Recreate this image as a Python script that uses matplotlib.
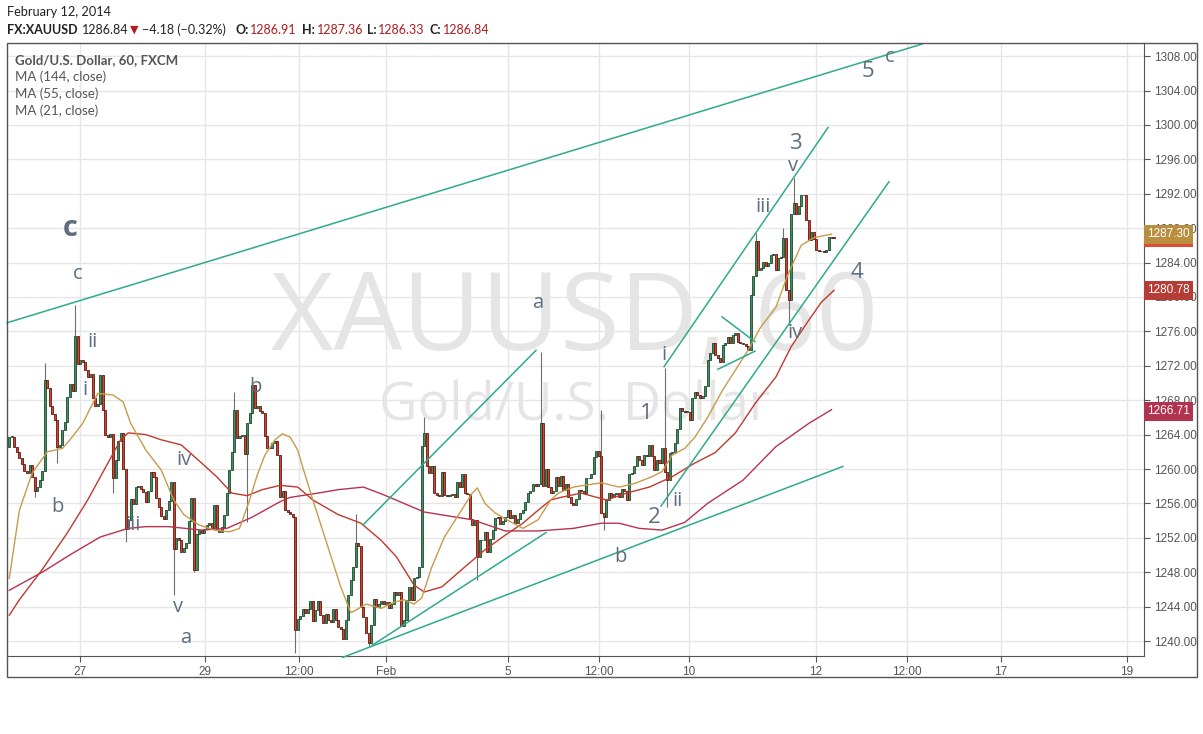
import numpy as np
import matplotlib
import matplotlib.pyplot as plt
from matplotlib.patches import Rectangle
matplotlib.use('Agg')

# hourly closes XAUUSD (oldest first)
closes = [
    1263.7, 1263.7, 1262.6, 1262.0, 1261.3, 1260.6, 1259.8, 1259.5, 1260.5, 1259.1,
    1257.5, 1257.9, 1258.7, 1259.8, 1270.4, 1269.4, 1267.3, 1266.4, 1265.7, 1262.6,
    1262.8, 1264.5, 1265.5, 1268.4, 1269.9, 1269.1, 1275.5, 1272.2, 1272.7, 1272.4,
    1271.5, 1270.7, 1271.1, 1268.3, 1267.3, 1267.6, 1270.9, 1266.9, 1263.9, 1263.7,
    1264.1, 1258.9, 1261.0, 1263.2, 1264.2, 1260.0, 1253.0, 1254.1, 1256.5,
    1255.9, 1257.9, 1258.0, 1257.7, 1257.3, 1256.2, 1257.4, 1259.7, 1259.1, 1256.6,
    1255.6, 1254.5, 1254.2, 1255.2, 1256.3, 1258.5, 1250.7, 1252.0, 1251.8, 1250.4,
    1250.8, 1251.4, 1254.0, 1256.6, 1248.3, 1252.4, 1252.9, 1252.6, 1253.0, 1253.5,
    1253.7, 1253.1, 1255.8, 1252.9, 1252.7, 1253.2, 1254.6, 1257.2, 1259.9, 1262.0,
    1266.9, 1263.6, 1263.8, 1263.9, 1261.7, 1265.4, 1266.5, 1269.8, 1267.1, 1267.3,
    1266.7, 1266.5, 1263.8, 1262.5, 1262.4, 1263.0,
    1263.3, 1261.6, 1256.8, 1257.4, 1255.2, 1255.0, 1254.8, 1254.4, 1241.3, 1242.6,
    1242.9, 1243.7, 1243.3, 1243.7, 1244.6, 1242.3, 1243.6, 1244.6, 1243.0, 1242.1,
    1243.1, 1242.4, 1242.2, 1243.7, 1242.4, 1241.6, 1241.4, 1240.2, 1242.4, 1245.3,
    1247.1, 1248.6, 1251.4, 1251.0, 1244.0, 1242.8, 1240.9, 1239.8, 1241.9, 1244.9,
    1244.0, 1244.3, 1244.6, 1244.3, 1244.5, 1243.8, 1244.3, 1245.7, 1245.4, 1245.7,
    1241.7, 1242.4, 1244.8, 1246.3,
    1244.8, 1247.3, 1247.4, 1248.6, 1262.7, 1264.2, 1260.3, 1259.5, 1260.3, 1257.2,
    1257.0, 1256.9, 1259.6, 1257.0, 1256.9, 1257.0, 1257.1, 1256.8, 1258.5, 1257.9,
    1259.4, 1257.2, 1257.1, 1254.2, 1253.5, 1254.1, 1249.8, 1251.7, 1251.8, 1252.7,
    1250.4, 1251.9, 1252.9, 1254.3, 1254.4, 1253.6, 1254.0, 1254.4, 1255.2, 1254.3,
    1254.7, 1253.7, 1254.2, 1254.9, 1255.2, 1256.2, 1257.2, 1257.4, 1258.3, 1258.0,
    1258.3, 1265.3, 1258.0, 1260.0, 1257.9,
    1257.2, 1257.4, 1259.1, 1258.0, 1259.2, 1257.6, 1258.2, 1256.8, 1256.1, 1255.8,
    1256.5, 1257.6, 1257.4, 1257.2, 1258.9, 1259.0, 1259.4, 1261.4, 1262.1, 1261.5,
    1254.9, 1254.4, 1256.4, 1257.2, 1256.8, 1257.1, 1257.2, 1256.8, 1257.7, 1257.5,
    1256.4, 1259.4, 1259.5, 1260.3, 1261.5, 1261.1, 1260.5, 1261.6, 1261.5, 1262.8,
    1261.5, 1259.9, 1261.0, 1260.7, 1262.4, 1259.7, 1258.7, 1261.9, 1262.0, 1263.0,
    1264.6, 1267.1, 1266.7, 1266.6,
    1266.6, 1265.7, 1268.2, 1269.0, 1268.6, 1268.2, 1268.5, 1269.6, 1272.7, 1273.5,
    1274.6, 1273.3, 1272.9, 1272.4, 1274.4, 1274.6, 1275.4, 1274.7, 1275.6, 1275.8,
    1274.8, 1274.7, 1274.5, 1274.3, 1273.8, 1280.2, 1282.4, 1286.5, 1283.1, 1283.4,
    1284.1, 1283.6, 1283.9, 1284.9, 1285.0, 1283.1, 1284.5, 1284.7, 1286.9, 1280.8,
    1279.7, 1289.7, 1290.9, 1289.7, 1290.6, 1291.9, 1291.8, 1288.9, 1286.6, 1287.6,
    1286.8, 1285.5, 1285.4, 1285.3, 1285.2, 1285.5, 1287.0, 1286.9, 1286.84,
]
first_open = 1262.6

# visible long wicks (bar index -> price)
wick_highs = {14: 1272.3, 26: 1279.1, 89: 1269.0, 137: 1254.8, 164: 1266.1, 210: 1273.6,
              234: 1266.9, 259: 1271.7, 295: 1287.4, 306: 1288.0, 310: 1293.8}
wick_lows = {10: 1256.8, 19: 1260.7, 41: 1257.2, 46: 1251.5, 65: 1245.3, 73: 1248.0,
             94: 1253.8, 113: 1238.6, 142: 1239.3, 185: 1247.1, 235: 1252.9, 260: 1255.6,
             308: 1276.8}

# moving averages (bar index, price)
ma144_x = [0, 13, 25, 36, 47, 54, 63, 76, 86, 96, 107, 111, 122, 130, 140, 148, 160, 164, 183,
           196, 209, 223, 234, 241, 249, 258, 267, 276, 290, 303, 316, 325]
ma144_y = [1245.9, 1248.0, 1250.2, 1252.1, 1253.1, 1253.3, 1253.3, 1252.9, 1253.1, 1254.4,
           1256.2, 1256.7, 1257.2, 1257.6, 1257.9, 1257.0, 1255.5, 1255.0, 1254.1, 1252.8,
           1252.8, 1253.1, 1253.7, 1253.7, 1253.1, 1252.9, 1253.8, 1256.0, 1258.7, 1262.6,
           1265.3, 1266.9]
ma55_x = [0, 4, 13, 23, 31, 39, 44, 47, 54, 60, 68, 76, 82, 88, 94, 100, 107, 114, 120, 130,
          139, 147, 153, 160, 164, 171, 180, 188, 195, 203, 209, 214, 218, 226, 236, 244, 253,
          262, 271, 279, 287, 295, 303, 309, 316, 321, 326]
ma55_y = [1243.0, 1244.8, 1248.3, 1252.6, 1256.4, 1260.7, 1263.4, 1264.2, 1264.0, 1263.4,
          1262.8, 1260.7, 1259.1, 1257.2, 1256.9, 1257.6, 1258.1, 1257.9, 1256.4, 1254.7,
          1253.7, 1251.7, 1249.8, 1246.5, 1245.7, 1246.3, 1248.6, 1250.6, 1252.1, 1253.7,
          1255.2, 1256.4, 1256.7, 1257.2, 1256.4, 1257.2, 1257.9, 1259.1, 1260.7, 1261.9,
          1264.2, 1267.7, 1270.7, 1274.2, 1277.3, 1279.4, 1280.78]
ma21_x = [0, 4, 9, 15, 21, 24, 29, 35, 41, 45, 48, 54, 60, 65, 69, 75, 81, 87, 91, 95, 98, 101,
          105, 108, 111, 114, 116, 120, 126, 131, 135, 137, 141, 147, 152, 156, 160, 163, 167,
          172, 177, 183, 185, 188, 192, 196, 203, 209, 214, 217, 223, 234, 241, 247, 254, 258,
          262, 267, 271, 276, 282, 287, 292, 297, 303, 308, 313, 318, 325]
ma21_y = [1247.3, 1255.2, 1259.5, 1262.0, 1262.4, 1263.4, 1265.3, 1268.8, 1268.6, 1267.8,
          1265.3, 1262.2, 1259.9, 1256.4, 1254.7, 1253.5, 1252.9, 1252.7, 1253.1, 1256.4,
          1259.3, 1261.6, 1263.4, 1264.1, 1263.7, 1262.2, 1260.2, 1256.4, 1250.9, 1246.3,
          1243.3, 1243.6, 1244.3, 1243.8, 1244.5, 1244.8, 1244.3, 1245.0, 1248.6, 1252.1,
          1254.4, 1257.2, 1257.8, 1256.0, 1254.9, 1254.2, 1253.1, 1254.1, 1256.4, 1257.2,
          1257.9, 1258.4, 1257.9, 1258.3, 1259.1, 1259.7, 1261.6, 1262.4, 1263.7, 1266.0,
          1269.2, 1271.5, 1273.8, 1276.5, 1278.8, 1282.8, 1286.0, 1286.9, 1287.3]

# trend lines drawn on the chart: (x0, y0, x1, y1) in bar index / price
trend_lines = [
    (-0.9, 1277.0, 360.7, 1309.4),
    (131.8, 1238.1, 329.5, 1260.3),
    (139.8, 1253.5, 208.2, 1273.8),
    (143.4, 1239.5, 212.1, 1252.6),
    (258.8, 1271.9, 323.6, 1299.7),
    (257.6, 1255.7, 347.7, 1293.4),
    (281.7, 1277.7, 294.7, 1274.8),
    (280.1, 1271.6, 294.7, 1273.7),
]

# Elliott wave labels: text, bar, price, size, bold
wave_labels = [
    ('c', 24, 1288.0, 21, True), ('c', 27.2, 1282.7, 14.5, False), ('ii', 32.7, 1274.8, 14.5, False),
    ('i', 30, 1269.2, 14.5, False), ('b', 18.9, 1255.6, 14.5, False), ('iii', 48.9, 1253.5, 14.5, False),
    ('iv', 69, 1261.0, 14.5, False), ('v', 66.7, 1244.0, 14.5, False), ('a', 69.8, 1240.3, 14.5, False),
    ('b', 97.1, 1269.5, 14.5, False), ('a', 208.9, 1279.3, 14.5, False), ('b', 241.4, 1249.8, 14.5, False),
    ('1', 251.7, 1266.4, 16, False), ('2', 254.8, 1254.4, 16, False), ('i', 258.8, 1273.3, 14.5, False),
    ('ii', 264.3, 1256.3, 14.5, False), ('iii', 297.9, 1290.5, 14.5, False), ('3', 310.6, 1297.9, 16, False),
    ('v', 309.8, 1295.2, 14.5, False), ('iv', 310.6, 1275.8, 14.5, False), ('4', 335.1, 1282.8, 16, False),
    ('5', 339.4, 1306.2, 16, False), ('c', 348.1, 1307.9, 14.5, False),
]

xtick_pos = [27.9, 77.3, 114.5, 148.9, 197.1, 233.1, 268.7, 318.9, 354.8, 391.9, 441.8]
xtick_lbl = ['27', '29', '12:00', 'Feb', '5', '12:00', '10', '12', '12:00', '17', '19']
yticks = list(range(1240, 1309, 4))

W, H = 1203, 734
def fx(px):
    return px / W
def fy(py):
    return 1 - py / H

fig = plt.figure(figsize=(W / 100, H / 100), dpi=100)
fig.patch.set_facecolor('white')
ax = fig.add_axes([fx(7), fy(656), (1144 - 7) / W, (656 - 43) / H])
ax.set_xlim(-0.9, 448.5)
ax.set_ylim(1238.26, 1309.53)

# grid
ax.set_xticks(xtick_pos)
ax.set_xticklabels(xtick_lbl)
ax.set_yticks(yticks)
ax.set_yticklabels(['%.2f' % v for v in yticks])
ax.grid(True, color='#e6e6e6', lw=1, zorder=0)
ax.set_axisbelow(True)
ax.yaxis.tick_right()
ax.tick_params(axis='both', colors='#555555', labelsize=8.5, length=4, direction='out')
ax.tick_params(axis='y', pad=3)
ax.tick_params(axis='x', pad=3)
for lbl in ax.get_xticklabels() + ax.get_yticklabels():
    lbl.set_fontfamily('Liberation Sans')
for s in ['left', 'top']:
    ax.spines[s].set_visible(False)
for s in ['right', 'bottom']:
    ax.spines[s].set_color('#555555')

# watermark
ax.text(0.4996, 0.545, 'XAUUSD, 60', transform=ax.transAxes, ha='center', va='center',
        fontsize=78, family='Open Sans', color='#e5e5e5', zorder=1)
ax.text(0.4996, 0.406, 'Gold/U.S. Dollar', transform=ax.transAxes, ha='center', va='center',
        fontsize=38, family='Open Sans', color='#e5e5e5', zorder=1)

# candles
c = np.array(closes)
o = np.concatenate([[first_open], c[:-1]])
x = np.arange(len(c))
hi = np.maximum(o, c)
lo = np.minimum(o, c)
for k, v in wick_highs.items():
    hi[k] = max(hi[k], v)
for k, v in wick_lows.items():
    lo[k] = min(lo[k], v)
ax.vlines(x, lo, hi, color='#6e6e6e', lw=0.8, zorder=3)
up = c >= o
body = np.maximum(np.abs(c - o), 0.1)
ax.bar(x[up], body[up], bottom=np.minimum(o, c)[up], width=0.8, color='#3f8f5f',
       edgecolor='#1f4a30', linewidth=0.6, zorder=3)
ax.bar(x[~up], body[~up], bottom=np.minimum(o, c)[~up], width=0.8, color='#d9432e',
       edgecolor='#5c1a10', linewidth=0.6, zorder=3)

# moving averages
ax.plot(ma144_x, ma144_y, color='#b8324f', lw=1, zorder=4)
ax.plot(ma55_x, ma55_y, color='#c0392b', lw=1, zorder=4)
ax.plot(ma21_x, ma21_y, color='#c89b4b', lw=1, zorder=4)

# trend lines
for x0, y0, x1, y1 in trend_lines:
    ax.plot([x0, x1], [y0, y1], color='#2eaa8c', lw=1.1, zorder=5, clip_on=False)

# wave labels
for t, bx, py, sz, bold in wave_labels:
    ax.text(bx, py, t, ha='center', va='center', fontsize=sz, family='Open Sans',
            fontweight='bold' if bold else 'normal', color='#5e6e80', zorder=6)

# price boxes on the axis
ytr = ax.get_yaxis_transform()
for val, col in [(1286.84, '#e04a35'), (1287.30, '#b98f3f'), (1280.78, '#b53d35'), (1266.71, '#b2334f')]:
    ax.text(1.0025, val, '%.2f' % val, transform=ytr, ha='left', va='center', fontsize=8.5,
            family='Liberation Sans', color='white', zorder=10, clip_on=False,
            bbox=dict(boxstyle='square,pad=0.28', fc=col, ec='none'))

# outer frame
fig.patches.append(Rectangle((fx(7), fy(677)), (1197 - 7) / W, (677 - 43) / H, fill=False,
                             ec='#555555', lw=1, transform=fig.transFigure, figure=fig))

# header
hf = 'Lato'
fig.text(fx(7), fy(12), 'February 12, 2014', fontsize=9.2, family=hf, color='#222222', va='center')
parts = [(7, 'FX:XAUUSD', 'bold', '#222222'), (82, '1286.84', 'normal', '#222222'),
         (130, '\u25BC', 'normal', '#b01c1c'), (142, '\u22124.18 (\u22120.32%)', 'normal', '#222222'),
         (235, 'O:', 'bold', '#222222'), (250, '1286.91', 'normal', '#b01c1c'),
         (302, 'H:', 'bold', '#222222'), (317, '1287.36', 'normal', '#b01c1c'),
         (367, 'L:', 'bold', '#222222'), (378, '1286.33', 'normal', '#b01c1c'),
         (430, 'C:', 'bold', '#222222'), (443, '1286.84', 'normal', '#b01c1c')]
for px, t, w, col in parts:
    fam = ['DejaVu Sans'] if t == '\u25BC' else [hf, 'DejaVu Sans']
    fig.text(fx(px), fy(30), t, fontsize=9 if t != '\u25BC' else 8, family=fam,
             fontweight=w, color=col, va='center')

# legend block
fig.text(fx(15), fy(60), 'Gold/U.S. Dollar, 60, FXCM', fontsize=9.5, family=hf,
         fontweight='bold', color='#555555', va='center')
for i, t in enumerate(['MA (144, close)', 'MA (55, close)', 'MA (21, close)']):
    fig.text(fx(15), fy(77 + 17 * i), t, fontsize=9.5, family=hf, color='#555555', va='center')

fig.savefig('out.png', dpi=100)
